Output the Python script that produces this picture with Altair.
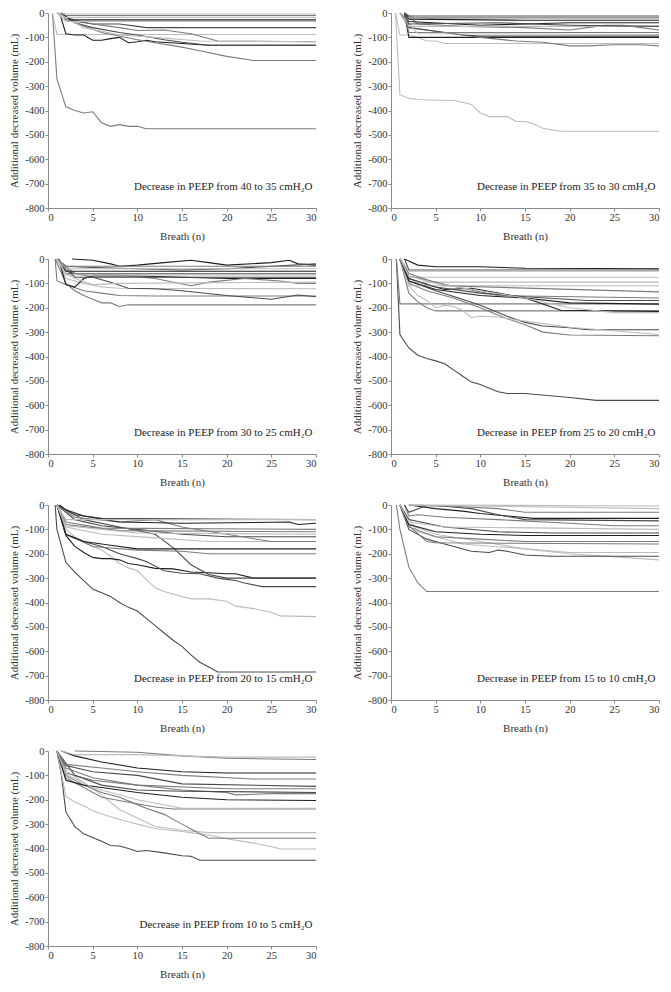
import altair as alt
import pandas as pd

X_TICKS = [0, 5, 10, 15, 20, 25, 30]
Y_TICKS = list(range(-800, 1, 100))
SHADES = ["#1e1e1e", "#4a4a4a", "#7c7c7c", "#bcbcbc"]
LABELS = [
    "Decrease in PEEP from 40 to 35 cmH\u2082O",
    "Decrease in PEEP from 35 to 30 cmH\u2082O",
    "Decrease in PEEP from 30 to 25 cmH\u2082O",
    "Decrease in PEEP from 25 to 20 cmH\u2082O",
    "Decrease in PEEP from 20 to 15 cmH\u2082O",
    "Decrease in PEEP from 15 to 10 cmH\u2082O",
    "Decrease in PEEP from 10 to 5 cmH\u2082O",
]

# each line: (shade index, breaths, volumes) read at the visible break points
P1 = [
    (2, [0.5, 1, 2, 3, 4, 5, 6, 7, 8, 9, 10, 11, 30], [0, -270, -385, -400, -410, -405, -450, -465, -458, -465, -465, -475, -475]),
    (3, [0.5, 1, 30], [0, -88, -88]),
    (0, [1.3, 2, 3, 4, 5, 6, 7, 8, 9, 10, 11, 12, 18, 30], [0, -85, -90, -90, -112, -112, -105, -100, -122, -118, -112, -118, -132, -132]),
    (1, [1.5, 2, 5, 8, 10, 11, 30], [0, -28, -45, -45, -55, -60, -60]),
    (1, [1.5, 3, 5, 8, 10, 13, 15, 18, 30], [0, -40, -60, -80, -90, -110, -120, -132, -132]),
    (2, [1, 3, 6, 10, 15, 17, 20, 23, 30], [0, -40, -80, -110, -140, -155, -178, -195, -195]),
    (2, [1, 3, 5, 8, 10, 13, 16, 19, 30], [0, -30, -45, -60, -72, -70, -85, -115, -118]),
    (3, [1, 4, 8, 12, 17, 30], [0, -60, -90, -100, -115, -118]),
    (0, [1.5, 2.5, 30], [0, -28, -28]),
    (2, [1.5, 2, 30], [0, -10, -10]),
    (3, [1, 2, 30], [0, -18, -18]),
    (3, [1, 2, 30], [0, -35, -35]),
    (3, [1.5, 2, 30], [0, -4, -4]),
]
P2 = [
    (3, [0.5, 1, 2, 3, 5, 7, 9, 10, 11, 13, 14, 15, 16, 17, 19, 30], [0, -335, -350, -355, -358, -358, -375, -410, -425, -425, -445, -445, -455, -473, -485, -485]),
    (3, [0.5, 1, 2, 3, 4, 5, 6, 30], [0, -90, -90, -100, -115, -115, -125, -125]),
    (0, [1.5, 2, 30], [0, -100, -100]),
    (2, [1, 2, 5, 10, 14, 17, 20, 22, 25, 28, 30], [0, -60, -75, -100, -115, -120, -135, -135, -130, -130, -135]),
    (2, [1.5, 3, 8, 15, 20, 22, 24, 26, 28, 30], [0, -45, -55, -60, -70, -60, -50, -50, -60, -70]),
    (1, [1.5, 2, 5, 8, 10, 30], [0, -60, -75, -90, -95, -95]),
    (0, [1, 2, 10, 20, 30], [0, -35, -50, -40, -40]),
    (1, [1.5, 2, 30], [0, -12, -12]),
    (2, [1.5, 2.5, 30], [0, -20, -20]),
    (0, [1.5, 2, 15, 30], [0, -25, -30, -30]),
    (3, [1, 2, 30], [0, -55, -55]),
    (2, [1.5, 2, 30], [0, -80, -80]),
    (3, [1, 3, 30], [0, -85, -88]),
    (1, [1.5, 2, 12, 20, 30], [0, -45, -40, -50, -55]),
]
P3 = [
    (2, [0.8, 2, 3, 4, 5, 6, 7, 8, 9, 30], [0, -100, -130, -150, -165, -180, -180, -195, -188, -188]),
    (2, [0.8, 1, 2, 4, 6, 8, 12, 30], [0, -90, -105, -130, -140, -150, -152, -152]),
    (3, [1, 2, 4, 6, 8, 30], [0, -80, -100, -115, -120, -122]),
    (1, [1.2, 2, 5, 7, 9, 12, 15, 20, 25, 28, 30], [0, -50, -75, -95, -120, -122, -130, -150, -165, -148, -155]),
    (0, [1.2, 2, 3, 4, 5, 10, 15, 20, 30], [0, -105, -115, -80, -70, -70, -75, -80, -80]),
    (0, [2.7, 5, 7, 8, 10, 13, 16, 18, 20, 25, 27, 28, 30], [0, -5, -20, -30, -25, -15, -5, -15, -25, -15, -5, -20, -25]),
    (1, [1, 2, 5, 10, 15, 20, 30], [0, -30, -35, -40, -45, -40, -20]),
    (2, [1, 3, 8, 12, 16, 18, 22, 26, 28, 30], [0, -60, -65, -80, -110, -95, -80, -90, -100, -100]),
    (0, [1, 2, 30], [0, -50, -50]),
    (2, [1, 2, 30], [0, -60, -60]),
    (3, [1, 2, 30], [0, -65, -65]),
    (1, [1, 3, 30], [0, -75, -75]),
    (3, [1, 2, 30], [0, -40, -40]),
    (2, [1, 2, 30], [0, -30, -30]),
    (3, [1, 2, 3, 5, 8, 30], [0, -60, -80, -105, -100, -95]),
]
P4 = [
    (1, [0.6, 1, 2, 3, 4, 5, 6, 7, 8, 9, 10, 11, 12, 13, 15, 20, 23, 30], [0, -310, -365, -395, -408, -418, -430, -455, -480, -505, -515, -530, -545, -552, -552, -568, -580, -580]),
    (2, [0.6, 1, 30], [0, -184, -184]),
    (2, [1, 2, 3, 4, 5, 30], [0, -140, -175, -200, -213, -213]),
    (0, [1, 2, 4, 6, 9, 12, 15, 17, 19, 30], [0, -80, -105, -125, -120, -140, -160, -185, -210, -215]),
    (1, [1, 2, 5, 8, 10, 13, 15, 17, 20, 22, 30], [0, -90, -130, -165, -190, -235, -260, -275, -282, -290, -290]),
    (2, [1, 2, 4, 7, 10, 13, 15, 17, 20, 30], [0, -100, -130, -160, -200, -245, -270, -300, -312, -315]),
    (3, [1, 2, 3, 4, 5, 6, 7, 8, 9, 10, 12, 15, 20, 30], [0, -110, -150, -170, -200, -190, -195, -210, -240, -235, -238, -255, -280, -310]),
    (0, [1.5, 3, 5, 10, 15, 30], [0, -25, -32, -32, -38, -40]),
    (1, [1.5, 2, 30], [0, -45, -45]),
    (3, [1, 2, 30], [0, -50, -50]),
    (3, [1, 2, 30], [0, -75, -75]),
    (3, [1, 2, 30], [0, -95, -95]),
    (3, [1, 2, 30], [0, -110, -110]),
    (2, [1, 2, 6, 30], [0, -60, -110, -135]),
    (2, [1, 2, 8, 12, 30], [0, -70, -120, -150, -160]),
    (1, [1, 2, 5, 10, 15, 22, 30], [0, -80, -115, -140, -155, -170, -170]),
    (0, [1, 2, 5, 10, 15, 20, 30], [0, -90, -125, -150, -160, -180, -185]),
    (3, [1, 2, 5, 10, 15, 20, 25, 30], [0, -70, -100, -130, -160, -200, -220, -220]),
]
P5 = [
    (1, [0.8, 1, 2, 3, 4, 5, 6, 7, 8, 9, 10, 11, 12, 13, 14, 15, 16, 17, 18, 19, 30], [0, -100, -235, -275, -310, -345, -360, -375, -400, -420, -435, -465, -495, -525, -555, -580, -615, -645, -665, -685, -685]),
    (3, [1, 2, 3, 4, 5, 6, 7, 8, 9, 10, 11, 12, 13, 14, 15, 16, 18, 20, 21, 23, 25, 26, 30], [0, -100, -130, -150, -170, -185, -210, -240, -258, -270, -305, -340, -355, -365, -375, -385, -385, -395, -415, -425, -440, -455, -458]),
    (0, [1, 2, 3, 4, 5, 6, 7, 8, 9, 10, 12, 14, 16, 18, 20, 21, 23, 30], [0, -125, -170, -195, -215, -220, -220, -225, -240, -245, -260, -262, -275, -278, -282, -282, -300, -300]),
    (1, [1, 2, 4, 6, 8, 10, 11, 13, 15, 17, 19, 20, 21, 22, 24, 30], [0, -120, -150, -170, -200, -220, -232, -270, -280, -282, -300, -305, -310, -320, -335, -335]),
    (1, [1, 4, 8, 12, 14, 16, 18, 20, 23, 30], [0, -60, -90, -120, -175, -245, -285, -300, -300, -300]),
    (2, [1, 2, 5, 10, 15, 18, 30], [0, -120, -170, -185, -190, -200, -200]),
    (0, [1, 2, 4, 7, 10, 30], [0, -120, -150, -165, -180, -180]),
    (3, [1, 2, 6, 12, 18, 30], [0, -90, -120, -135, -150, -150]),
    (1, [1, 3, 6, 10, 15, 20, 30], [0, -60, -85, -100, -120, -130, -130]),
    (2, [1, 3, 8, 12, 15, 20, 25, 30], [0, -50, -70, -60, -90, -120, -150, -150]),
    (1, [1, 3, 6, 30], [0, -40, -55, -60]),
    (0, [1.3, 2, 4, 8, 15, 27, 28, 30], [0, -20, -45, -70, -75, -70, -80, -75]),
    (2, [1, 2, 6, 30], [0, -70, -95, -100]),
    (2, [1, 2, 8, 30], [0, -80, -105, -110]),
    (3, [1, 2, 10, 30], [0, -85, -115, -120]),
    (3, [1, 2, 30], [0, -60, -60]),
]
P6 = [
    (2, [0.6, 1, 2, 3, 4, 30], [0, -100, -255, -320, -355, -355]),
    (3, [1, 2, 5, 10, 15, 20, 30], [0, -80, -120, -150, -180, -200, -225]),
    (1, [1, 2, 4, 6, 9, 11, 12, 13, 15, 18, 30], [0, -100, -140, -160, -190, -195, -185, -190, -205, -210, -210]),
    (3, [1, 3, 8, 15, 20, 30], [0, -110, -160, -180, -195, -195]),
    (2, [1, 2, 4, 5, 30], [0, -85, -150, -155, -160]),
    (2, [1, 2, 5, 10, 15, 30], [0, -90, -130, -140, -150, -150]),
    (0, [1, 2, 5, 10, 15, 30], [0, -80, -110, -120, -125, -125]),
    (1, [1, 2, 6, 12, 18, 30], [0, -60, -90, -110, -115, -115]),
    (2, [1.5, 2, 3, 6, 12, 20, 25, 30], [0, -45, -40, -50, -60, -75, -85, -85]),
    (0, [2, 3, 5, 8, 10, 13, 16, 30], [0, -5, -15, -25, -35, -45, -55, -55]),
    (1, [1.5, 2, 4, 6, 9, 12, 15, 30], [0, -30, -2, -5, -15, -40, -60, -65]),
    (2, [2, 7, 12, 15, 30], [0, -5, -15, -30, -30]),
    (3, [2, 30], [0, -15]),
    (3, [2, 30], [0, -4]),
    (3, [1, 2, 6, 30], [0, -70, -90, -100]),
]
P7 = [
    (1, [1, 1.5, 2, 3, 4, 5, 6, 7, 8, 9, 10, 11, 13, 15, 16, 17, 30], [0, -100, -250, -310, -340, -355, -370, -388, -390, -400, -412, -408, -418, -430, -432, -448, -448]),
    (3, [1, 2, 3, 4, 5, 7, 9, 10, 12, 15, 18, 20, 23, 25, 26, 30], [0, -185, -210, -225, -245, -270, -290, -300, -318, -330, -345, -360, -378, -392, -402, -402]),
    (3, [1, 2, 4, 6, 8, 10, 12, 15, 18, 20, 30], [0, -80, -130, -180, -240, -275, -310, -325, -335, -335, -335]),
    (2, [1, 2, 4, 6, 8, 10, 11, 13, 15, 16, 18, 30], [0, -100, -140, -170, -190, -220, -235, -260, -300, -320, -358, -358]),
    (2, [1, 2, 4, 6, 9, 12, 14, 30], [0, -110, -150, -190, -210, -230, -238, -238]),
    (0, [1, 2, 4, 6, 8, 10, 15, 20, 30], [0, -120, -140, -150, -160, -170, -190, -200, -203]),
    (2, [1, 2, 5, 10, 15, 20, 21, 25, 30], [0, -90, -120, -140, -160, -170, -180, -175, -175]),
    (1, [1, 3, 6, 10, 15, 30], [0, -100, -140, -160, -165, -170]),
    (2, [1, 2, 5, 10, 20, 30], [0, -70, -110, -140, -155, -155]),
    (1, [1, 2, 5, 10, 15, 30], [0, -60, -85, -100, -135, -145]),
    (2, [1, 2, 6, 10, 15, 23, 30], [0, -55, -70, -85, -100, -115, -115]),
    (0, [1.5, 3, 6, 10, 15, 20, 30], [0, -20, -45, -70, -85, -90, -90]),
    (2, [3, 10, 15, 20, 30], [0, -5, -20, -30, -35]),
    (3, [1.5, 3, 10, 20, 30], [0, -15, -15, -25, -25]),
    (3, [1, 2, 5, 10, 15, 30], [0, -95, -150, -200, -235, -235]),
]

FONT = "Liberation Serif"


def panel(lines, label):
    rows = []
    for i, (s, xs, ys) in enumerate(lines):
        for x, y in zip(xs, ys):
            rows.append({"sid": i, "shade": s, "x": x, "y": y})
    df = pd.DataFrame(rows)
    xenc = alt.X("x:Q", scale=alt.Scale(domain=[0, 30], nice=False),
                 axis=alt.Axis(values=X_TICKS, title="Breath (n)", titlePadding=8))
    yenc = alt.Y("y:Q", scale=alt.Scale(domain=[-800, 0], nice=False),
                 axis=alt.Axis(values=Y_TICKS, title="Additional decreased volume (mL)",
                               labelExpr="toString(datum.value)"))
    lines_layer = alt.Chart(df).mark_line(strokeWidth=1.1).encode(
        x=xenc, y=yenc,
        color=alt.Color("shade:O", scale=alt.Scale(domain=[0, 1, 2, 3], range=SHADES), legend=None),
        detail="sid:N",
    )
    tdf = pd.DataFrame({"x": [29.6], "y": [-715], "t": [label]})
    text_layer = alt.Chart(tdf).mark_text(align="right", baseline="middle", font=FONT,
                                          fontSize=11, color="#222").encode(
        x=xenc, y=yenc, text="t:N")
    return alt.layer(lines_layer, text_layer).properties(width=268, height=195)


panels = [panel(p, l) for p, l in zip([P1, P2, P3, P4, P5, P6, P7], LABELS)]

chart = alt.vconcat(
    alt.hconcat(panels[0], panels[1], spacing=32),
    alt.hconcat(panels[2], panels[3], spacing=32),
    alt.hconcat(panels[4], panels[5], spacing=32),
    panels[6],
    spacing=12,
).properties(padding=0).configure_view(stroke=None).configure_axis(
    grid=False,
    domainColor="#8a8a8a",
    tickColor="#8a8a8a",
    tickSize=3,
    labelFont=FONT,
    labelFontSize=10.5,
    labelColor="#333333",
    labelPadding=1,
    titleFont=FONT,
    titleFontSize=11,
    titleFontWeight="normal",
    titleColor="#333333",
    titlePadding=5,
)

chart.save("out.html", embed_options={"renderer": "svg", "actions": False})
